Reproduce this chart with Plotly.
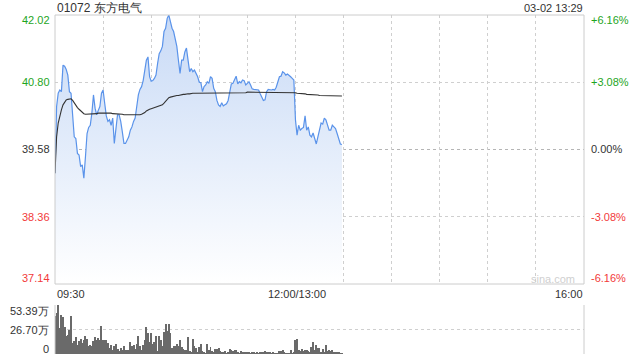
import plotly.graph_objects as go

# ---------------- data ----------------
stock_title = "01072 东方电气"
stamp = "03-02 13:29"
prev_close = 39.58
price_ticks = [42.02, 40.80, 39.58, 38.36, 37.14]
pct_ticks = ["+6.16%", "+3.08%", "0.00%", "-3.08%", "-6.16%"]
vol_ticks = [53.39, 26.70, 0]
vol_tick_text = ["53.39万", "26.70万", "0"]
time_ticks = [0, 150, 330]
time_tick_text = ["09:30", "12:00/13:00", "16:00"]
session_minutes = 330

price = [
    39.15, 40.36, 40.60, 40.66, 40.63, 41.11, 41.09, 41.03, 40.93, 40.63,
    40.60, 40.24, 39.81, 39.78, 39.51, 39.48, 39.27, 39.30, 39.06, 39.45,
    39.87, 39.98, 40.02, 40.24, 40.57, 40.33, 40.21, 40.29, 40.36, 40.60,
    40.66, 40.42, 40.19, 40.09, 40.12, 40.02, 40.15, 39.69, 40.02, 40.21,
    40.21, 40.09, 39.90, 39.69, 39.69, 39.75, 39.81, 39.93, 39.99, 40.09,
    40.15, 40.36, 40.57, 40.67, 40.72, 40.83, 40.99, 41.20, 41.26, 40.90,
    40.82, 40.83, 40.87, 40.93, 41.14, 41.32, 41.37, 41.45, 41.72, 41.78,
    41.96, 42.02, 41.90, 41.78, 41.72, 41.60, 41.45, 41.20, 40.96, 41.20,
    41.20, 41.35, 41.42, 41.20, 40.99, 41.05, 40.99, 41.02, 40.96, 40.90,
    40.80, 40.79, 40.63, 40.72, 40.75, 40.81, 40.78, 40.90, 40.87, 40.69,
    40.63, 40.47, 40.39, 40.36, 40.43, 40.37, 40.39, 40.41, 40.47, 40.66,
    40.77, 40.78, 40.85, 40.91, 40.77, 40.81, 40.79, 40.84, 40.83, 40.75,
    40.78, 40.81, 40.75, 40.68, 40.67, 40.67, 40.66, 40.66, 40.59, 40.53,
    40.47, 40.48, 40.63, 40.67, 40.66, 40.66, 40.67, 40.66, 40.71, 40.81,
    40.90, 40.91, 40.99, 40.97, 40.93, 40.95, 40.93, 40.90, 40.87, 40.84,
    40.12, 39.84, 40.02, 39.93, 39.96, 39.98, 40.19, 39.93, 39.99, 39.84,
    39.81, 39.88, 39.78, 39.68, 39.81, 39.93, 40.06, 40.04, 40.15, 40.12,
    40.02, 39.93, 39.93, 40.02, 39.99, 39.96, 39.87, 39.75, 39.68, 39.67,
]

avg_price = [
    39.15, 39.81, 40.06, 40.21, 40.30, 40.39, 40.45, 40.48, 40.49, 40.50,
    40.50, 40.47, 40.42, 40.38, 40.34, 40.31, 40.28, 40.25, 40.23, 40.22,
    40.22, 40.22, 40.22, 40.22, 40.22, 40.23, 40.23, 40.24, 40.24, 40.24,
    40.25, 40.25, 40.24, 40.24, 40.24, 40.24, 40.23, 40.23, 40.23, 40.23,
    40.22, 40.22, 40.22, 40.21, 40.21, 40.21, 40.21, 40.20, 40.20, 40.20,
    40.20, 40.20, 40.21, 40.21, 40.22, 40.23, 40.25, 40.28, 40.30, 40.31,
    40.32, 40.33, 40.33, 40.34, 40.35, 40.36, 40.37, 40.39, 40.42, 40.46,
    40.49, 40.52, 40.53, 40.54, 40.55, 40.55, 40.56, 40.56, 40.57, 40.57,
    40.58, 40.58, 40.59, 40.59, 40.59, 40.60, 40.60, 40.60, 40.60, 40.61,
    40.61, 40.61, 40.61, 40.61, 40.61, 40.61, 40.61, 40.61, 40.61, 40.61,
    40.61, 40.61, 40.61, 40.61, 40.61, 40.61, 40.61, 40.61, 40.61, 40.61,
    40.61, 40.61, 40.61, 40.61, 40.61, 40.61, 40.61, 40.61, 40.61, 40.61,
    40.62, 40.62, 40.62, 40.62, 40.62, 40.62, 40.62, 40.62, 40.62, 40.62,
    40.62, 40.62, 40.62, 40.62, 40.62, 40.62, 40.62, 40.62, 40.62, 40.62,
    40.62, 40.62, 40.62, 40.62, 40.62, 40.62, 40.62, 40.62, 40.62, 40.62,
    40.61, 40.60, 40.60, 40.60, 40.59, 40.59, 40.59, 40.58, 40.58, 40.58,
    40.58, 40.57, 40.57, 40.57, 40.57, 40.56, 40.56, 40.56, 40.56, 40.56,
    40.56, 40.56, 40.55, 40.55, 40.55, 40.55, 40.55, 40.55, 40.55, 40.55,
]

volume = [  # 万股
    41.5, 44.4, 53.4, 28.1, 42.6, 40.0, 29.2, 19.8, 20.9, 26.3,
    41.5, 11.9, 13.7, 18.4, 10.1, 13.7, 16.2, 11.9, 15.5, 19.8,
    16.2, 8.3, 9.4, 8.3, 13.7, 18.4, 14.8, 17.3, 14.8, 30.7,
    14.8, 15.5, 14.8, 11.9, 6.5, 9.7, 4.7, 8.3, 10.8, 5.4,
    3.6, 6.5, 4.0, 8.3, 4.7, 4.0, 4.0, 13.0, 9.0, 10.1,
    5.4, 11.2, 19.8, 8.3, 4.7, 10.1, 14.8, 29.2, 23.4, 12.6,
    22.7, 11.2, 12.6, 19.8, 2.9, 19.8, 14.8, 8.3, 24.5, 32.8,
    25.6, 32.8, 23.4, 6.5, 8.3, 8.3, 11.2, 8.3, 14.8, 7.6,
    5.4, 4.7, 4.7, 18.4, 2.9, 1.1, 16.2, 8.3, 6.5, 1.1,
    7.6, 11.2, 2.9, 1.8, 0.4, 11.2, 4.7, 7.6, 2.9, 1.1,
    5.4, 5.4, 6.5, 2.9, 1.1, 2.5, 2.9, 0.4, 1.1, 5.4,
    4.0, 2.9, 4.7, 4.0, 1.1, 0.4, 2.9, 1.1, 1.1, 1.8,
    1.1, 1.1, 0.4, 1.1, 1.1, 0.4, 1.1, 0.4, 1.8, 1.1,
    1.8, 2.9, 1.8, 1.1, 1.8, 0.2, 1.1, 0.4, 0.4, 0.4,
    3.6, 2.9, 4.7, 1.8, 0.4, 0.4, 0.4, 4.0, 0.2, 1.1,
    15.5, 16.2, 4.7, 2.9, 5.4, 3.6, 4.0, 4.7, 2.9, 1.8,
    7.6, 13.3, 4.7, 10.1, 6.5, 6.5, 1.1, 5.4, 1.1, 10.1,
    2.9, 4.0, 2.9, 4.0, 1.1, 1.8, 1.8, 1.1, 0.4, 0.2,
]

minutes = list(range(len(price)))

# ---------------- layout geometry ----------------
W, H = 640, 360
ML, MR, MT, MB = 55, 56, 15, 6
PW, PH = W - ML - MR, H - MT - MB
PRICE_BOTTOM_PX = 284
VOL_TOP_PX = 305


def px(x):
    return (x - ML) / PW


def py(y):
    return (H - MB - y) / PH


GREEN = "#1ea51e"
RED = "#f23a3a"
DARK = "#333333"
GRID = "#cfcfcf"
FONT = "Liberation Sans, Arial, sans-serif"

fig = go.Figure()

fig.add_trace(go.Scatter(
    x=minutes, y=price, mode="lines",
    line=dict(color="#5a93ea", width=1.2),
    fill="tozeroy",
    fillgradient=dict(type="vertical",
                      colorscale=[[0, "rgba(255,255,255,1)"], [1, "#c8daf6"]],
                      start=price_ticks[-1], stop=price_ticks[0]),
    xaxis="x", yaxis="y", hoverinfo="skip", showlegend=False,
))
fig.add_trace(go.Scatter(
    x=minutes, y=avg_price, mode="lines",
    line=dict(color="#333333", width=1.1),
    xaxis="x", yaxis="y", hoverinfo="skip", showlegend=False,
))
fig.add_trace(go.Bar(
    x=minutes, y=volume, width=0.62,
    marker=dict(color="#6a6a6a", line=dict(width=0)),
    xaxis="x2", yaxis="y2", hoverinfo="skip", showlegend=False,
))

price_domain_bottom = py(PRICE_BOTTOM_PX)
vol_domain_top = py(VOL_TOP_PX)

fig.update_layout(
    width=W, height=H,
    margin=dict(l=ML, r=MR, t=MT, b=MB),
    paper_bgcolor="white", plot_bgcolor="white",
    font=dict(family=FONT, size=11, color=DARK),
    bargap=0,
    xaxis=dict(domain=[0, 1], range=[0, session_minutes],
               tickvals=list(range(30, session_minutes, 30)),
               showticklabels=False, showgrid=True, gridcolor=GRID,
               griddash="dot", gridwidth=1, zeroline=False, showline=False,
               fixedrange=True),
    yaxis=dict(domain=[price_domain_bottom, 1],
               range=[price_ticks[-1], price_ticks[0]],
               tickvals=[price_ticks[1], price_ticks[3]],
               showticklabels=False, showgrid=True, gridcolor=GRID,
               griddash="dot", gridwidth=1, zeroline=False, showline=False),
    xaxis2=dict(domain=[0, 1], range=[0, session_minutes], anchor="y2",
                showticklabels=False, showgrid=False, zeroline=False,
                showline=False),
    yaxis2=dict(domain=[0, vol_domain_top], range=[0, vol_ticks[0]],
                tickvals=vol_ticks, showticklabels=False, showgrid=True,
                gridcolor=GRID, griddash="dot", gridwidth=1, zeroline=False,
                showline=False, anchor="x2"),
)

shapes = [
    # price panel border
    dict(type="rect", xref="x domain", yref="y domain", x0=0, x1=1, y0=0, y1=1,
         line=dict(color="#cccccc", width=1), layer="above"),
    # previous close line
    dict(type="line", xref="x domain", yref="y", x0=0, x1=1,
         y0=prev_close, y1=prev_close,
         line=dict(color="#b5b5b5", width=1, dash="3px,3px"), layer="below"),
    # volume panel side borders
    dict(type="line", xref="x2 domain", yref="y2 domain", x0=0, x1=0, y0=0, y1=1,
         line=dict(color="#cccccc", width=1)),
    dict(type="line", xref="x2 domain", yref="y2 domain", x0=1, x1=1, y0=0, y1=1,
         line=dict(color="#cccccc", width=1)),
]
fig.update_layout(shapes=shapes)

ann = []


def text(x, y, s, xanchor, color=DARK, size=11):
    ann.append(dict(x=px(x), y=py(y), xref="paper", yref="paper", text=s,
                    showarrow=False, xanchor=xanchor, yanchor="middle",
                    font=dict(family=FONT, size=size, color=color)))


text(55, 7.5, stock_title, "left", DARK, 12)
text(584.5, 7.5, stamp, "right", DARK, 11)

label_y = [20, 82, 149.3, 216.7, 278.3]
price_colors = [GREEN, GREEN, DARK, RED, RED]
for v, yy, c, p in zip(price_ticks, label_y, price_colors, pct_ticks):
    text(52, yy, f"{v:.2f}", "right", c)
    text(589, yy, p, "left", c)

for s, yy in zip(vol_tick_text, [311, 330, 348.5]):
    text(51, yy, s, "right", DARK)

time_px = [55, 296.5, 584.5]
for t, s, xp, xa in zip(time_ticks, time_tick_text, time_px, ["left", "center", "right"]):
    text(xp, 293.5, s, xa, DARK)

text(552.5, 279, "sina.com", "center", "#cfcfcf", 11)

fig.update_layout(annotations=ann)
fig.write_html("out.html", config={"displayModeBar": False})
